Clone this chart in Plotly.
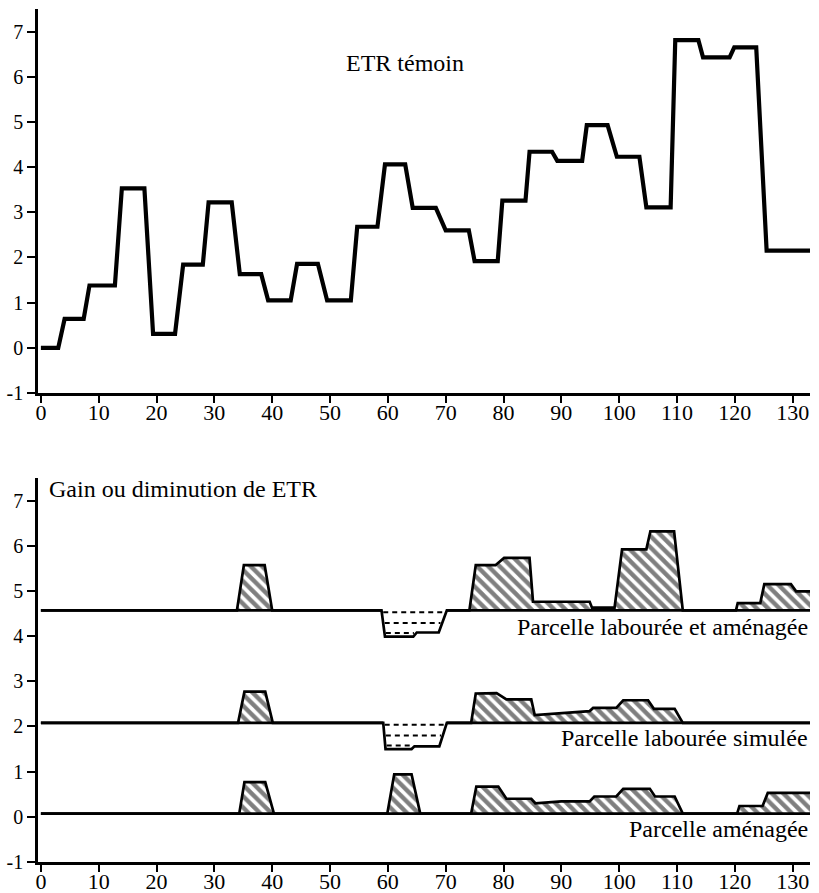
import numpy as np
import plotly.graph_objects as go

# ---------------- Data ----------------
# Top panel: "ETR témoin" (piecewise-linear breakpoints)
TOP_X = [0, 3, 4.1, 7.4, 8.4, 12.8, 14, 17.9, 19.4, 23.2, 24.6, 28, 29, 33, 34.4, 38.1,
         39.3, 43.2, 44.3, 47.9, 49.5, 53.6, 54.7, 58.2, 59.5, 63, 64.3, 68.3, 70, 74,
         75, 79, 79.8, 83.8, 84.5, 88.4, 89.3, 93.6, 94.4, 98, 99.6, 103.5, 104.7, 108.9,
         109.7, 113.7, 114.5, 119.1, 119.9, 123.7, 125.5, 133]
TOP_Y = [0, 0, 0.64, 0.64, 1.38, 1.38, 3.53, 3.53, 0.31, 0.31, 1.84, 1.84, 3.22, 3.22, 1.63, 1.63,
         1.05, 1.05, 1.86, 1.86, 1.05, 1.05, 2.68, 2.68, 4.06, 4.06, 3.10, 3.10, 2.60, 2.60,
         1.92, 1.92, 3.26, 3.26, 4.34, 4.34, 4.14, 4.14, 4.93, 4.93, 4.23, 4.23, 3.11, 3.11,
         6.81, 6.81, 6.43, 6.43, 6.65, 6.65, 2.15, 2.15]

# Bottom panel: gain (+) or loss (-) of ETR for each plot
LAB_AME_X = [0, 33.9, 35.1, 38.7, 40.0, 58.9, 59.5, 64.4, 65.0, 68.8, 70.2, 74.1, 75.2, 78.6,
             80.1, 84.5, 85.1, 94.9, 95.3, 99.2, 100.5, 104.7, 105.4, 109.5, 111.0, 120.2,
             120.5, 124.4, 125.1, 129.7, 130.6, 133]
LAB_AME_G = [0, 0, 1.0, 1.0, 0, 0, -0.58, -0.58, -0.49, -0.49, 0, 0, 1.0, 1.0,
             1.16, 1.16, 0.19, 0.19, 0.06, 0.06, 1.35, 1.35, 1.75, 1.75, 0, 0,
             0.16, 0.16, 0.58, 0.58, 0.42, 0.42]

LAB_SIM_X = [0, 34.1, 35.2, 38.8, 40.1, 59.2, 59.6, 64.1, 64.6, 68.9, 70.2, 74.4, 75.2, 78.8,
             80.5, 84.8, 85.4, 90, 94.9, 95.5, 99.5, 100.7, 105, 106, 109.6, 111, 133]
LAB_SIM_G = [0, 0, 0.69, 0.69, 0, 0, -0.58, -0.58, -0.52, -0.52, 0, 0, 0.65, 0.66,
             0.52, 0.52, 0.17, 0.22, 0.26, 0.33, 0.33, 0.50, 0.50, 0.31, 0.31, 0, 0]

AME_X = [0, 34.3, 35.2, 38.8, 40.3, 59.9, 61.1, 64.1, 65.6, 74.4, 75.3, 79.1, 80.5, 84.8,
         85.5, 90, 94.9, 95.7, 99.5, 100.7, 105.3, 106.2, 109.6, 111, 120.4, 120.8, 124.8,
         125.7, 133]
AME_G = [0, 0, 0.70, 0.70, 0, 0, 0.87, 0.87, 0, 0, 0.60, 0.60, 0.33, 0.33,
         0.23, 0.27, 0.27, 0.38, 0.38, 0.55, 0.55, 0.38, 0.38, 0, 0, 0.17, 0.17,
         0.46, 0.46]

SERIES_X = [LAB_AME_X, LAB_SIM_X, AME_X]
SERIES_G = [LAB_AME_G, LAB_SIM_G, AME_G]
OFFSETS = [4.57, 2.08, 0.07]
SERIES_LABELS = ["Parcelle labourée et aménagée", "Parcelle labourée simulée", "Parcelle aménagée"]
LABEL_Y = [4.21, 1.75, -0.27]
DIP_DASH_LEVELS = [-0.04, -0.28, -0.50]

X_TICKS = list(range(0, 140, 10))
Y_TICKS = list(range(-1, 8))
Y_TICKTEXT = [str(v) for v in Y_TICKS]

TOP_TITLE = "ETR témoin"
BOTTOM_TITLE = "Gain ou diminution de ETR"

FONT = "Liberation Serif"

# ---------------- Figure ----------------
fig = go.Figure()

fig.add_trace(go.Scatter(x=TOP_X, y=TOP_Y, mode="lines",
                         line=dict(color="black", width=4.2),
                         xaxis="x", yaxis="y", showlegend=False, hoverinfo="skip"))

for sx, sg, off in zip(SERIES_X, SERIES_G, OFFSETS):
    x = np.array(sx, dtype=float)
    g = np.array(sg, dtype=float)
    # hatched positive areas
    gp = np.maximum(g, 0)
    px = list(x) + [x[-1]]
    py = list(off + gp) + [off]
    fig.add_trace(go.Scatter(x=px, y=py, mode="none", fill="toself",
                             fillpattern=dict(shape="\\", fgcolor="black", bgcolor="white",
                                              size=8, solidity=0.55),
                             xaxis="x2", yaxis="y2", showlegend=False, hoverinfo="skip"))
    # solid baseline except under the dips
    yb = [off if gi >= 0 else None for gi in g]
    fig.add_trace(go.Scatter(x=list(x), y=yb, mode="lines",
                             line=dict(color="black", width=2.7),
                             connectgaps=False,
                             xaxis="x2", yaxis="y2", showlegend=False, hoverinfo="skip"))
    # outline
    fig.add_trace(go.Scatter(x=list(x), y=list(off + g), mode="lines",
                             line=dict(color="black", width=2.7),
                             xaxis="x2", yaxis="y2", showlegend=False, hoverinfo="skip"))
    # dashed lines inside the dips
    xf = np.linspace(x.min(), x.max(), 2661)
    gf = np.interp(xf, x, g)
    for lev in DIP_DASH_LEVELS:
        m = gf < lev - 0.03
        if m.any():
            xs = xf[m]
            fig.add_trace(go.Scatter(x=[xs.min() + 0.2, xs.max() - 0.2], y=[off + lev, off + lev],
                                     mode="lines",
                                     line=dict(color="black", width=2, dash="5px,4px"),
                                     xaxis="x2", yaxis="y2", showlegend=False, hoverinfo="skip"))

annotations = [
    dict(x=62.9, y=6.31, xref="x", yref="y", text=TOP_TITLE, showarrow=False,
         xanchor="center", yanchor="middle", font=dict(family=FONT, size=24, color="black")),
    dict(x=1.0, y=7.26, xref="x2", yref="y2", text=BOTTOM_TITLE, showarrow=False,
         xanchor="left", yanchor="middle", font=dict(family=FONT, size=24, color="black")),
]
for lab, ly in zip(SERIES_LABELS, LABEL_Y):
    annotations.append(dict(x=133, y=ly, xref="x2", yref="y2", text=lab, showarrow=False,
                            xanchor="right", yanchor="middle",
                            font=dict(family=FONT, size=24, color="black")))

xax = dict(range=[-0.5, 133], showline=True, linewidth=2.5, linecolor="black",
           ticks="outside", ticklen=7, tickwidth=2, tickcolor="black",
           ticklabelstandoff=-9,
           tickvals=X_TICKS, ticktext=[str(v) for v in X_TICKS],
           tickfont=dict(family=FONT, size=22, color="black"),
           showgrid=False, zeroline=False, automargin=False, fixedrange=True)
yax = dict(range=[-1, 7.5], showline=True, linewidth=2.5, linecolor="black",
           ticks="outside", ticklen=8, tickwidth=2, tickcolor="black",
           tickvals=Y_TICKS, ticktext=Y_TICKTEXT,
           tickfont=dict(family=FONT, size=20, color="black"),
           showgrid=False, zeroline=False, automargin=False, fixedrange=True)

fig.update_layout(
    width=819, height=893,
    margin=dict(l=38, r=9, t=9, b=31),
    paper_bgcolor="white", plot_bgcolor="white",
    showlegend=False,
    xaxis=dict(xax, domain=[0, 1], anchor="y"),
    yaxis=dict(yax, domain=[0.5498, 1], anchor="x"),
    xaxis2=dict(xax, domain=[0, 1], anchor="y2"),
    yaxis2=dict(yax, domain=[0, 0.4502], anchor="x2"),
    annotations=annotations,
    font=dict(family=FONT, color="black"),
)

fig.write_html("out.html")
